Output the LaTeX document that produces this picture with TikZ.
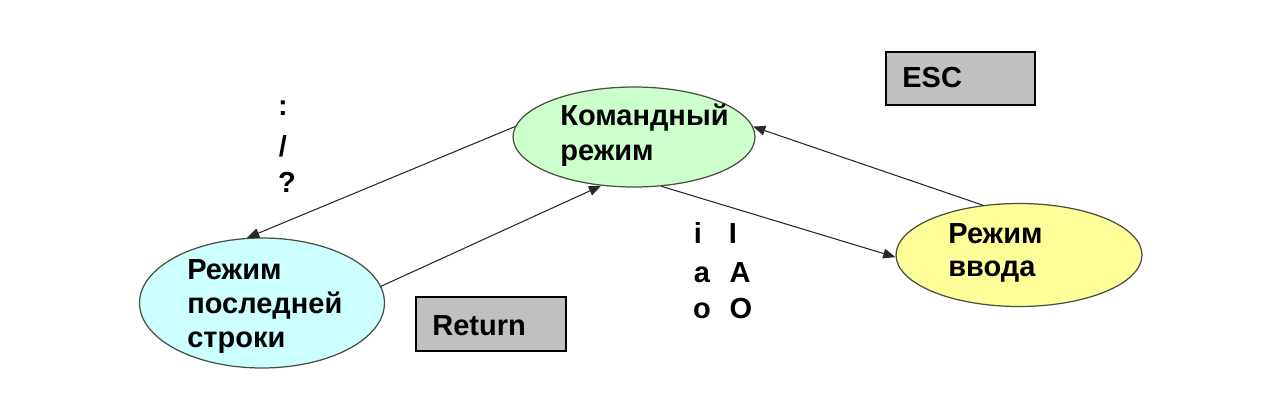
\documentclass[tikz,border=0pt]{standalone}
\usepackage{fontspec}
\setmainfont{Liberation Sans}
\usetikzlibrary{shapes.geometric,arrows.meta}
\definecolor{cmdgreen}{RGB}{204,255,204}
\definecolor{lastcyan}{RGB}{204,255,255}
\definecolor{inyellow}{RGB}{255,255,153}
\definecolor{boxgray}{RGB}{192,192,192}
\definecolor{edgeol}{RGB}{70,80,60}
\definecolor{linegray}{RGB}{40,40,40}
\tikzset{
  mode/.style={ellipse, draw=edgeol, line width=0.7pt, inner sep=0pt},
  lbl/.style={anchor=base west, inner sep=0pt, font=\fontsize{16.5}{20}\selectfont\bfseries},
  key/.style={anchor=base, inner sep=0pt, font=\fontsize{16.5}{20}\selectfont\bfseries},
  keybox/.style={draw=black, fill=boxgray, line width=0.8pt},
  conn/.style={draw=linegray, line width=0.6pt, -{Triangle[length=7pt,width=5.5pt]}}
}
\begin{document}
\begin{tikzpicture}[x=0.02cm,y=-0.02cm]
\useasboundingbox (0,0) rectangle (1280,402);
% ellipses
\node[mode, fill=cmdgreen, minimum width=4.84cm, minimum height=2.0cm] (cmd) at (634,137) {};
\node[mode, fill=lastcyan, minimum width=4.9cm, minimum height=2.6cm] (last) at (262,303) {};
\node[mode, fill=inyellow, minimum width=4.92cm, minimum height=2.06cm] (ins) at (1019,255) {};
% boxes
\node[keybox, minimum width=2.98cm, minimum height=1.06cm] (escbox) at (960.5,78.5) {};
\node[keybox, minimum width=3.0cm, minimum height=1.08cm] (retbox) at (491,324) {};
% ellipse texts
\node[lbl] (cmdt1) at (560,125) {Командный};
\node[lbl] (cmdt2) at (560,160) {режим};
\node[lbl] (lastt1) at (187,279) {Режим};
\node[lbl] (lastt2) at (187,313) {последней};
\node[lbl] (lastt3) at (187,347) {строки};
\node[lbl] (inst1) at (948,243) {Режим};
\node[lbl] (inst2) at (948,276) {ввода};
\node[lbl] (esct) at (902,88) {ESC};
\node[lbl] (rett) at (432,335) {Return};
% key labels
\node[key] (kcolon) at (283,115) {:};
\node[key] (kslash) at (283,156) {/};
\node[key] (kquest) at (287,192) {?};
\node[key] (ki) at (698,243) {i};
\node[key] (kI) at (733,243) {I};
\node[key] (ka) at (702,282) {a};
\node[key] (kA) at (740,282) {A};
\node[key] (ko) at (702,318) {o};
\node[key] (kO) at (741,318) {O};
% connectors
\draw[conn] (cmd.175) -- (last.103);
\draw[conn] (last.8) -- (cmd.236);
\draw[conn] (cmd.299) -- (ins.181);
\draw[conn] (ins.126) -- (cmd.5);
\end{tikzpicture}
\end{document}
